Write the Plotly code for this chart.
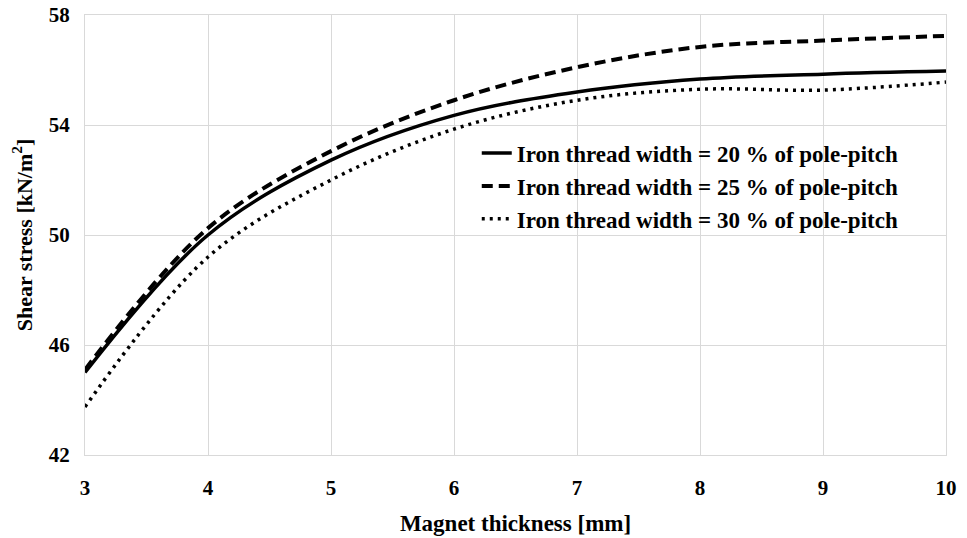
import plotly.graph_objects as go

thickness = [3, 4, 5, 6, 7, 8, 9, 10]
w20 = [45.0, 50.0, 52.72, 54.35, 55.2, 55.67, 55.85, 55.96]
w25 = [45.1, 50.25, 53.05, 54.9, 56.1, 56.84, 57.07, 57.24]
w30 = [43.75, 49.2, 52.0, 53.85, 54.9, 55.3, 55.27, 55.56]
names = ["Iron thread width = 20 % of pole-pitch",
         "Iron thread width = 25 % of pole-pitch",
         "Iron thread width = 30 % of pole-pitch"]
y_ticks = [42, 46, 50, 54, 58]

FONT = "Liberation Serif"

fig = go.Figure()
fig.add_trace(go.Scatter(x=thickness, y=w20, name=names[0], mode="lines",
                         line=dict(color="black", width=3.5, shape="spline")))
fig.add_trace(go.Scatter(x=thickness, y=w25, name=names[1], mode="lines",
                         line=dict(color="black", width=4, dash="11px,6px", shape="spline")))
fig.add_trace(go.Scatter(x=thickness, y=w30, name=names[2], mode="lines",
                         line=dict(color="black", width=3.5, dash="3px,5px", shape="spline")))

fig.update_layout(
    width=967, height=538,
    margin=dict(l=85, r=21, t=15, b=83),
    plot_bgcolor="white", paper_bgcolor="white",
    font=dict(family=FONT, size=20, color="black"),
    showlegend=True,
    legend=dict(x=0.455, y=0.735, xanchor="left", yanchor="top",
                bgcolor="rgba(0,0,0,0)", font=dict(family=FONT, size=23, color="black", weight="bold"),
                tracegroupgap=0, itemwidth=30),
    xaxis=dict(range=[3, 10], dtick=1, tick0=3, showgrid=True, gridcolor="#d9d9d9", gridwidth=1,
               showline=True, linecolor="#d9d9d9", mirror=True, zeroline=False, ticks="",
               automargin=False, ticklabelstandoff=14,
               tickfont=dict(family=FONT, size=21, weight="bold"),
               title=dict(text="<b>Magnet thickness [mm]</b>", font=dict(family=FONT, size=23), standoff=15)),
    yaxis=dict(range=[42, 58], tickvals=y_ticks, showgrid=True, gridcolor="#d9d9d9", gridwidth=1,
               showline=True, linecolor="#d9d9d9", mirror=True, zeroline=False, ticks="",
               automargin=False, ticklabelstandoff=10,
               tickfont=dict(family=FONT, size=21, weight="bold"),
               title=dict(text="<b>Shear stress [kN/m<sup>2</sup>]</b>", font=dict(family=FONT, size=22), standoff=10)),
)

fig.write_html("out.html")
